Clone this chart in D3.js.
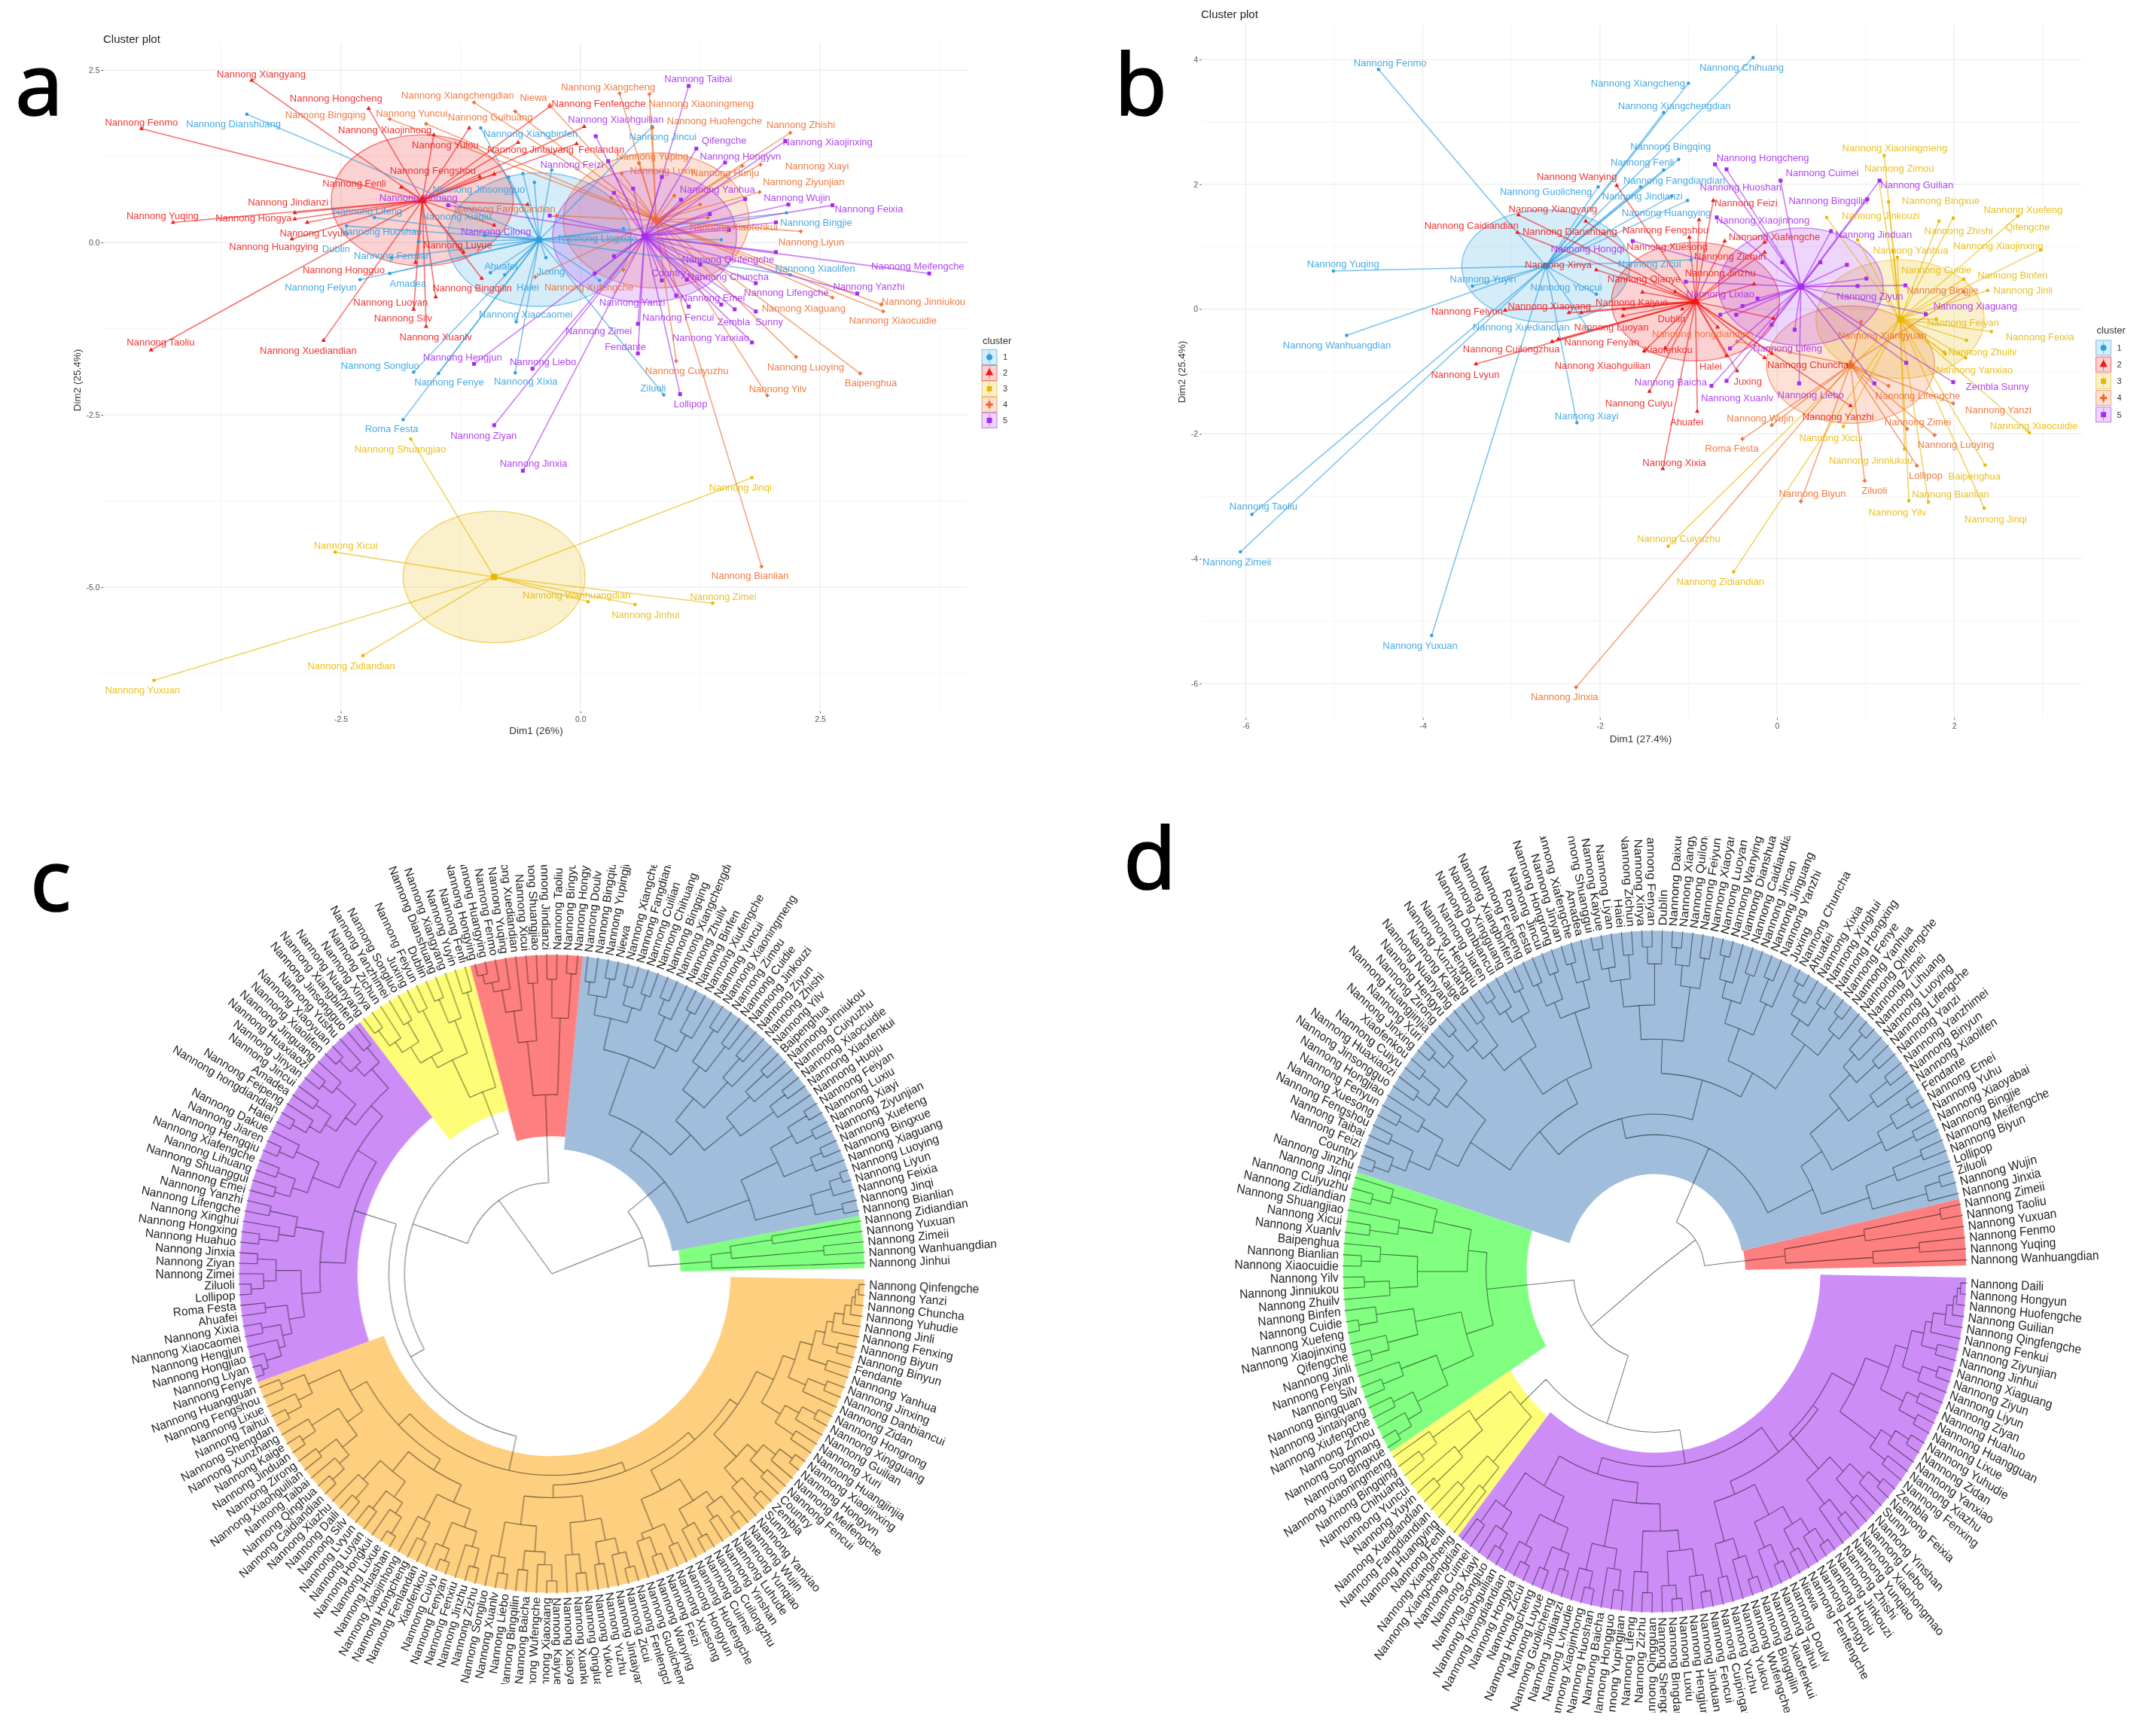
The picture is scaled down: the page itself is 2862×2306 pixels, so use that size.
<!DOCTYPE html>
<html>
<head>
<meta charset="utf-8">
<script src="https://d3js.org/d3.v7.min.js"></script>
<style>
body{margin:0;background:#fff}
svg{display:block;font-family:"Liberation Sans",Arial,sans-serif}
.plots{filter:blur(.55px)}
.panelLetter{font-family:"Noto Sans",sans-serif;font-size:114px;fill:#000;stroke:#000;stroke-width:1.6px}
</style>
</head>
<body>
<script>
// cluster colours of the two scatter plots (clusters 1..5)
var clusterColors = ["#2E9FDF","#F01818","#E7B800","#EE6A2A","#A62BEF"];
var clusterIds = [1,2,3,4,5];

// panel a: name, cluster, Dim1, Dim2, label Dim1, label Dim2 (empty name: point without a label)
var pointsA = [
["Nannong Xiangyang",2,-3.43,2.35,-3.33,2.44],["Nannong Fenmo",2,-4.58,1.65,-4.58,1.74],
["Nannong Hongcheng",2,-2.21,1.94,-2.55,2.09],["Nannong Xiaojinhong",2,-1.53,1.56,-2.04,1.63],
["Nannong Yulou",2,-1.16,1.66,-1.41,1.42],["Nannong Jintaiyang",2,-.04,1.43,-.52,1.35],
["Fenlandan",2,.04,1.68,.22,1.35],["Nannong Fenfengche",2,-.32,1.97,.19,2.01],
["Nannong Fengshou",2,-.90,.99,-1.54,1.04],["Nannong Fenli",2,-1.87,.80,-2.36,.86],
["Nannong Jindianzi",2,-2.98,.43,-3.05,.58],["Nannong Yuqing",2,-4.25,.29,-4.36,.39],
["Nannong Hongya",2,-2.98,.34,-3.41,.36],["Nannong Lvyun",2,-2.85,.29,-2.78,.14],
["Nannong Huangying",2,-3.01,.05,-3.20,-.06],["Nannong Hongguo",2,-1.72,-.29,-2.47,-.40],
["Nannong Luyue",2,-1.22,-.14,-1.28,-.04],["Nannong Bingqilin",2,-1.03,-.52,-1.13,-.66],
["Nannong Luoyan",2,-1.74,-.97,-1.98,-.87],["Nannong Silv",2,-1.61,-1.22,-1.85,-1.10],
["Nannong Xuanlv",2,-1.51,-.79,-1.51,-1.37],["Nannong Taoliu",2,-4.48,-1.56,-4.38,-1.45],
["Nannong Xuediandian",2,-2.68,-1.42,-2.84,-1.56],
["",2,-1.05,.95,0,0],["",2,-.55,.55,0,0],["",2,-.9,.25,0,0],["",2,-.65,1.45,0,0],
["Nannong Dianshuang",1,-3.48,1.86,-3.62,1.72],["Nannong Xiangbinfen",1,-1.04,1.66,-.52,1.58],
["Nannong Jinsongguo",1,-.60,1.00,-1.06,.77],["Nannong Lifeng",1,-2.44,.24,-2.22,.45],
["Nannong Xiaqiu",1,-.48,.87,-1.29,.38],["Nannong Huoshan",1,-2.15,.36,-2.08,.16],
["Dublin",1,-1.97,-.22,-2.55,-.09],["Nannong Fenxian",1,-1.69,.01,-1.96,-.19],
["Nannong Feiyun",1,-2.30,-.54,-2.71,-.65],["Amadea",1,-1.99,-.45,-1.80,-.59],
["Ahuafei",1,-.94,-.44,-.83,-.34],["Haiei",1,-.79,-.47,-.55,-.65],
["Juxing",1,-.36,-.22,-.31,-.42],["Nannong Xiaocaomei",1,-.67,-1.15,-.57,-1.04],
["Nannong Songluo",1,-1.74,-1.88,-2.09,-1.78],["Nannong Fenye",1,-1.48,-1.90,-1.37,-2.02],
["Nannong Xixia",1,-.68,-1.89,-.57,-2.01],["Roma Festa",1,-1.85,-2.57,-1.97,-2.70],
["Ziluoli",1,.87,-2.21,.76,-2.11],["Nannong Jincui",1,.75,1.68,.86,1.53],
["Nannong Bingjie",1,2.15,.43,2.46,.29],["Nannong Xiaolifen",1,2.19,-.47,2.45,-.37],
["Nannong Lingxiao",1,1.47,.04,.18,.06],
["",1,-.75,.95,0,0],["",1,-.3,1.05,0,0],["",1,.2,-.55,0,0],["",1,-1.0,.1,0,0],["",1,.45,.2,0,0],
["Nannong Shuangjiao",3,-1.77,-2.85,-1.88,-3.00],["Nannong Jinqi",3,1.79,-3.41,1.67,-3.55],
["Nannong Xicui",3,-2.56,-4.49,-2.45,-4.39],["Nannong Wanhuangdian",3,.08,-5.21,-.04,-5.11],
["Nannong Jinhui",3,.57,-5.25,.68,-5.40],["Nannong Zimei",3,1.38,-5.23,1.49,-5.13],
["Nannong Zidiandian",3,-2.27,-5.99,-2.39,-6.14],["Nannong Yuxuan",3,-4.45,-6.35,-4.57,-6.49],
["Nannong Xiangchengdian",4,-1.11,2.03,-1.28,2.14],["Nannong Bingqing",4,-1.99,1.79,-2.66,1.85],
["Nannong Yuncui",4,-1.61,1.72,-1.76,1.87],["Nannong Guihuang",4,-.68,1.90,-.94,1.82],
["Niewa",4,-.32,1.99,-.49,2.10],["Nannong Xiangcheng",4,.41,2.16,.29,2.26],
["Nannong Xiaoningmeng",4,.72,2.15,1.26,2.02],["Nannong Huofengche",4,.75,1.66,1.40,1.76],
["Nannong Zhishi",4,2.19,1.59,2.30,1.71],["Nannong Yuping",4,.61,1.15,.75,1.25],
["Nannong Luxiu",4,.43,1.00,.86,1.04],["Nannong Hunju",4,1.69,1.11,1.51,1.01],
["Nannong Xiayi",4,1.88,1.13,2.47,1.11],["Nannong Ziyunjian",4,1.87,.73,2.33,.88],
["Nannong Fangdiandian",4,-.25,.39,-.79,.49],["Nannong Liyun",4,2.30,.16,2.41,.01],
["Nannong Xiaofenkui",4,1.33,.36,1.60,.22],["Nannong Jinniukou",4,3.14,-.90,3.58,-.86],
["Nannong Xiaocuidie",4,3.16,-1.00,3.26,-1.13],["Nannong Xiaguang",4,2.63,-.80,2.33,-.95],
["Nannong Luoying",4,2.25,-1.66,2.35,-1.81],["Baipenghua",4,2.92,-1.90,3.03,-2.03],
["Nannong Yilv",4,1.95,-2.22,2.06,-2.12],["Nannong Cuiyuzhu",4,1.00,-1.72,1.11,-1.86],
["Nannong Bianlian",4,1.89,-4.70,1.77,-4.83],["Nannong Xufengche",4,-.47,-.50,.09,-.65],
["",4,.98,.68,0,0],["",4,1.25,.55,0,0],["",4,.32,.65,0,0],["",4,.45,-.4,0,0],
["Nannong Taibai",5,1.13,2.27,1.23,2.38],["Nannong Xiaohguilian",5,.16,1.54,.37,1.79],
["Qifengche",5,1.21,1.36,1.50,1.48],["Nannong Xiaojinxing",5,2.14,1.47,2.58,1.46],
["Nannong Hongyvn",5,1.51,1.16,1.67,1.25],["Nannong Yanhua",5,1.72,.63,1.43,.77],
["Nannong Wujin",5,2.17,.55,2.26,.65],["Nannong Feixia",5,2.63,.54,3.01,.49],
["Nannong Meifengche",5,3.64,-.45,3.52,-.34],["Nannong Yanzhi",5,2.89,-.74,3.01,-.64],
["Nannong Lifengche",5,2.04,-.14,2.15,-.73],["Nannong Chuncha",5,1.83,-.59,1.54,-.49],
["Nannong Qinfengche",5,2.04,.29,1.54,-.24],["Country",5,1.11,-.54,.92,-.44],
["Nannong Yanzi",5,1.00,-.77,.54,-.87],["Nannong Emei",5,1.47,-.90,1.38,-.80],
["Zembla",5,1.61,-.97,1.60,-1.15],["Sunny",5,1.83,-1.00,1.97,-1.15],
["Nannong Yanxiao",5,1.79,-1.45,1.36,-1.38],["Nannong Fencui",5,1.13,-.93,1.02,-1.08],
["Nannong Zimei",5,.60,-1.18,.19,-1.28],["Fendante",5,.60,-1.61,.47,-1.51],
["Nannong Hengjun",5,-1.11,-1.76,-1.23,-1.66],["Nannong Liebo",5,-.50,-1.83,-.39,-1.73],
["Lollipop",5,1.04,-2.20,1.15,-2.34],["Nannong Ziyan",5,-.90,-2.65,-1.01,-2.80],
["Nannong Jinxia",5,-.60,-3.31,-.49,-3.20],["Nannong Cilong",5,-.32,.39,-.88,.16],
["Nannong Xihuang",5,-1.38,.54,-1.69,.65],["Nannong Feizi",5,.29,1.18,-.09,1.13],
["",5,.35,.72,0,0],["",5,.55,.78,0,0],["",5,.85,.95,0,0],["",5,1.05,.62,0,0],["",5,1.35,.41,0,0],
["",5,1.55,.18,0,0],["",5,1.25,-.32,0,0],["",5,.35,-.2,0,0],["",5,.15,-.45,0,0],["",5,.85,-.55,0,0]
];
// panel a: cluster centre Dim1, Dim2 and ellipse half axes
var centersA = [[-.43,.04,.96,.97],[-1.65,.61,.95,.95],[-.90,-4.85,.95,.955],[.79,.32,.97,.98],[.67,.09,.96,.96]];
var ticksAx = [-2.5,0,2.5], tickLabelsAx = ["-2.5","0.0","2.5"];
var ticksAy = [2.5,0,-2.5,-5], tickLabelsAy = ["2.5","0.0","-2.5","-5.0"];
var minorAx = [-3.75,-1.25,1.25,3.75], minorAy = [1.25,-1.25,-3.75,-6.25];

// panel b
var pointsB = [
["Nannong Fenmo",1,-4.50,3.84,-4.37,3.95],["Nannong Chihuang",1,-.27,4.03,-.40,3.87],
["Nannong Xiangcheng",1,-1.00,3.62,-1.57,3.62],["Nannong Xiangchengdian",1,-1.28,3.15,-1.16,3.26],
["Nannong Bingqing",1,-1.11,2.40,-1.20,2.61],["Nannong Fenli",1,-1.28,2.23,-1.52,2.35],
["Nannong Fangdiandian",1,-1.54,1.96,-1.16,2.07],["Nannong Guolicheng",1,-2.02,1.96,-2.61,1.88],
["Nannong Jindianzi",1,-1.19,1.81,-1.52,1.81],["Nannong Huangying",1,-1.01,1.74,-1.25,1.55],
["Nannong Yuqing",1,-5.01,.61,-4.90,.73],["Nannong Yuyin",1,-3.44,.37,-3.32,.49],
["Nannong Yuncui",1,-2.04,.24,-2.38,.35],["Nannong Zicui",1,-.97,.79,-1.44,.72],
["Nannong Xuediandian",1,-2.12,-.34,-2.89,-.29],["Nannong Wanhuangdian",1,-4.86,-.42,-4.97,-.58],
["Nannong Xiayi",1,-2.26,-1.82,-2.15,-1.71],["Nannong Taoliu",1,-5.93,-3.29,-5.80,-3.16],
["Nannong Zimeii",1,-6.06,-3.89,-6.10,-4.05],["Nannong Yuxuan",1,-3.90,-5.23,-4.03,-5.39],
["Nannong Wanying",2,-1.81,1.98,-2.26,2.12],["Nannong Xiangyang",2,-2.92,1.51,-2.53,1.61],
["Nannong Caidiandian",2,-2.93,1.23,-3.45,1.34],["Nannong Dianshuang",2,-2.16,1.41,-2.34,1.24],
["Nannong Feizi",2,-.72,1.74,-.35,1.70],["Nannong Fengshou",2,-.88,1.43,-1.26,1.27],
["Nannong Xuesong",2,-.99,1.15,-1.24,1.00],["Nannong Zichun",2,-.14,.91,-.53,.85],
["Nannong Jinzhu",2,-.26,.40,-.64,.58],["Nannong Xinya",2,-2.04,.63,-2.47,.71],
["Nannong Qianye",2,-1.15,.28,-1.50,.48],["Nannong Xiaoyang",2,-2.35,-.06,-2.57,.05],
["Nannong Kaiyue",2,-1.73,0,-1.64,.11],["Nannong Feiyun",2,-3.07,-.02,-3.50,-.04],
["Nannong Luoyan",2,-2.21,-.06,-1.87,-.29],["Dublin",2,-1.07,0,-1.19,-.16],
["Nannong Fenyan",2,-2.54,-.52,-1.98,-.53],["Nannong Cuilongzhua",2,-2.47,-.48,-3.00,-.64],
["Nannong Lvyun",2,-3.40,-.88,-3.52,-1.05],["Xiaofenkou",2,-1.50,-.67,-1.23,-.65],
["Nannong Xiaohguilian",2,-1.26,-.63,-1.97,-.90],["Halei",2,-.57,-.75,-.75,-.91],
["Juxing",2,-.45,-.99,-.33,-1.16],["Nannong Cuiyu",2,-1.44,-1.32,-1.56,-1.50],
["Ahuafei",2,-.90,-1.64,-1.02,-1.81],["Nannong Xixia",2,-1.29,-2.56,-1.16,-2.46],
["Nannong Yanzhi",2,.83,-1.55,.69,-1.72],["Nannong Chuncha",2,-.06,-.71,.35,-.89],
["Nannong Xiafengche",2,-.14,1.07,-.03,1.16],
["",2,-.59,1.09,0,0],["",2,-1.52,.27,0,0],["",2,-1.74,-.11,0,0],["",2,-.67,-.29,0,0],["",2,-.04,-.15,0,0],["",2,-.14,-.78,0,0],
["Nannong Xiaoningmeng",3,1.21,2.46,1.33,2.58],["Nannong Zimou",3,1.15,2.06,1.38,2.26],
["Nannong Bingxue",3,1.26,1.72,1.85,1.74],["Nannong Xuefeng",3,2.72,1.49,2.78,1.59],
["Nannong Jinkouzi",3,.56,1.47,1.17,1.50],["Nannong Zhishi",3,1.83,1.41,2.05,1.26],
["Qifengche",3,1.99,1.46,2.83,1.32],["Nannong Xiaojinxing",3,2.98,.95,2.50,1.01],
["Nannong Yanhua",3,.91,1.11,1.51,.94],["Nannong Cuidie",3,1.36,.83,1.80,.63],
["Nannong Binfen",3,2.11,.48,2.66,.55],["Nannong Jinli",3,2.38,.30,2.78,.30],
["Nannong Feiyan",3,1.80,-.16,2.10,-.21],["Nannong Feixia",3,2.42,-.36,2.97,-.44],
["Nannong Zhuilv",3,1.89,-.69,2.32,-.69],["Nannong Yanxiao",3,2.13,-.78,2.23,-.97],
["Nannong Xiaocuidie",3,2.85,-1.98,2.90,-1.87],["Baipenghua",3,2.35,-2.50,2.23,-2.67],
["Nannong Bianlian",3,1.71,-3.09,1.96,-2.97],["Nannong Jinqi",3,2.34,-3.19,2.47,-3.36],
["Nannong Yilv",3,1.49,-3.07,1.36,-3.25],["Nannong Jinniukou",3,1.44,-2.24,1.06,-2.42],
["Nannong Xicui",3,.75,-1.88,.61,-2.06],["Nannong Cuiyuzhu",3,-1.23,-3.80,-1.11,-3.68],
["Nannong Zidiandian",3,-.49,-4.21,-.64,-4.37],
["",3,2.14,-.50,0,0],["",3,1.90,-.72,0,0],["",3,1.31,.93,0,0],
["Nannong Xiangyuan",4,.95,-.20,1.19,-.42],["Nannong Lifengche",4,1.26,-1.23,1.59,-1.39],
["Nannong Yanzi",4,1.99,-1.51,2.50,-1.62],["Nannong Zimei",4,1.47,-1.92,1.59,-1.81],
["Nannong Luoying",4,1.78,-2.02,2.02,-2.17],["Lollipop",4,1.58,-2.51,1.68,-2.66],
["Ziluoli",4,.99,-2.75,1.10,-2.91],["Nannong Biyun",4,.27,-3.08,.40,-2.95],
["Nannong Wujin",4,-.06,-1.86,-.19,-1.75],["Roma Festa",4,-.39,-2.08,-.51,-2.23],
["Nannong Jinxia",4,-2.27,-6.06,-2.40,-6.21],["Nannong hongdiandian",4,-.45,-.52,-.84,-.40],
["Nannong Bingjie",4,2.11,.28,1.87,.30],
["Nannong Hongcheng",5,-.57,2.24,-.16,2.43],["Nannong Cuimei",5,.04,2.06,.51,2.19],
["Nannong Guilian",5,1.16,2.06,1.58,1.99],["Nannong Huoshan",5,-.70,2.32,-.41,1.96],
["Nannong Bingqilin",5,1.02,1.76,.58,1.74],["Nannong Xiaojinhong",5,-.68,1.47,-.16,1.43],
["Nannong Jinduan",5,.61,1.25,1.09,1.20],["Nannong Hongqi",5,-1.63,1.09,-2.14,.97],
["Nannong Lixiao",5,-1.03,.44,-.64,.24],["Nannong Ziyun",5,1.45,.38,1.05,.21],
["Nannong Xiaguang",5,1.68,-.08,2.24,.05],["Nannong Lifeng",5,-.53,-.63,.12,-.62],
["Nannong Baicha",5,-.74,-1.23,-1.20,-1.17],["Nannong Xuanlv",5,-.57,-1.15,-.45,-1.42],
["Nannong Liebo",5,.25,-1.19,.38,-1.37],["Zembla  Sunny",5,1.99,-1.17,2.49,-1.24],
["",5,-.39,.05,0,0],["",5,-.46,-.09,0,0],["",5,-.64,-.09,0,0],["",5,-.22,.17,0,0],["",5,-.06,-.25,0,0],
["",5,.20,-.33,0,0],["",5,.06,.75,0,0],["",5,.49,.75,0,0],["",5,.79,.71,0,0],["",5,.91,.37,0,0],
["",5,1.01,.49,0,0],["",5,1.46,-.86,0,0],["",5,1.10,-1.19,0,0]
];
var centersB = [[-2.61,.69,.95,.90],[-.92,.12,.95,.95],[1.39,-.16,.95,.95],[.83,-.89,.95,.94],[.27,.36,.93,.94]];
var ticksBx = [-6,-4,-2,0,2], ticksBy = [4,2,0,-2,-4,-6];
var minorBx = [-5,-3,-1,1,3], minorBy = [3,1,-1,-3,-5];

// names in the fan dendrograms get the "Nannong " prefix unless listed here
var plainNames = ["Ziluoli","Lollipop","Ahuafei","Roma Festa","Haiei","Amadea","Dublin","Fendante","Country","Qifengche","Baipenghua","Niewa","Xiaofenkou","Juxing","Zembla","Sunny"];

// fan trees: [node height, child, child], leaves are cultivar names, counter clockwise from east
var greenC = [.51,"Jinhui",[.575,[.87,"Wanhuangdian","Zimeii"],[.71,"Yuxuan","Zidiandian"]]];
var blueC = [.46,
 [.67,
  [.86,[.95,"Bianlian","Jinqi"],[.93,"Feixia",[.97,"Liyun","Luoying"]]],
  [.80,[.90,"Xiaguang",[.94,"Bingxue","Xuefeng"]],[.88,[.94,"Ziyunjian","Xiayi"],[.95,"Luxiu","Feiyan"]]]],
 [.53,
  [.62,
   [.74,[.87,"Huoju",[.93,"Xiaofenkui","Xiaocuidie"]],[.84,"Cuiyuzhu",[.92,"Jinniukou","Baipenghua"]]],
   [.71,[.82,"Yilv",[.9,"Zhishi","Ziyun"]],[.80,[.9,"Jinkouzi","Cuidie"],[.92,"Zimou","Xiaoningmeng"]]]],
  [.72,
   [.80,[.86,"Yuncui",[.93,"Xiufengche","Binfen"]],[.88,"Zhuilv",[.93,"Xiangchengdian","Bingqing"]]],
   [.82,[.87,[.92,"Chihuang","Cuilian"],[.93,"Fangdiandian","Xiangcheng"]],[.88,[.94,"Niewa","Yupingjian"],[.92,"Bingqiu","Doulv"]]]]]
];
var redC = [.56,
 [.80,[.94,"Hongyu","Bingyu"],[.92,"Taoliu","Jindianzi"]],
 [.73,[.91,"Shuangjiao","Xicui"],[.83,"Xuediandian",[.90,"Yuqing",[.93,"Fenmo",[.96,"Huangying","Hongying"]]]]]
];
var yellowC = [.61,
 [.92,"Fenli","Yuyin"],
 [.74,
  [.85,"Xiangyang",[.93,"Dianshuang","Dublin"]],
  [.78,[.92,"Feiyun","Juxing"],[.84,[.91,"Songluo","Yanzhimei"],[.88,"Zichun",[.94,"Xinya","Nuanyang"]]]]]
];
var purpleC = [.66,
 [.73,
  [.78,[.86,[.92,"Xiangbinfen","Jinsongguo"],[.9,"Yushu",[.95,"Xiaoyuan","Xiaolifen"]]],[.82,[.9,"Jinguang",[.94,"Huaxiaozi","Jinyan"]],[.86,[.92,"Jincui","Amadea"],[.9,"Feipeng",[.95,"hongdiandian","Haiei"]]]]],
  [.82,[.9,"Dakue",[.95,"Jiaren","Hengqiu"]],[.87,[.93,"Xiafengche","Lihuang"],[.92,"Shuanggui","Emei"]]]],
 [.74,
  [.83,[.92,"Yanzhi","Lifengche"],[.88,"Xinghui",[.94,"Hongxing","Huahuo"]]],
  [.8,[.88,[.94,"Jinxia","Ziyan"],[.92,"Zimei",[.96,"Ziluoli","Lollipop"]]],[.85,[.92,"Roma Festa","Ahuafei"],[.88,[.94,"Xixia","Xiaocaomei"],[.9,"Hengjun",[.95,"Hongjiao",[.97,"Liyan","Fenye"]]]]]]]
];
var orangeC = [.63,
 [.68,
  [.74,[.85,[.93,"Huangguan","Fengshou"],[.9,"Lixue",[.95,"Taihui","Shengdan"]]],[.8,[.9,"Xunzhang",[.95,"Kaige","Jinduan"]],[.86,[.93,"Zirong","Xiaohguilian"],[.9,"Taibai",[.95,"Qinghua","Caidiandian"]]]]],
  [.72,[.8,[.88,"Xiazhu",[.94,"Daili","Silv"]],[.86,[.93,"Lvyun","Luyan"],[.9,"Hongkui",[.96,"Luxue","Huashan"]]]],[.78,[.87,"Xiaojinhong",[.93,"Hongcheng","Fenlandan"]],[.84,[.92,"Xiaofenkou",[.96,"Cuiyu","Fenyan"]],[.89,"Fenxiu",[.95,"Jinzhu","Zizhu"]]]]]],
 [.66,
  [.7,
   [.79,[.9,"Songluo",[.95,"Xuanlv","Liebo"]],[.87,[.93,"Bingqilin","Baicha"],[.91,"Wufengche",[.96,"Xiaoxiang","Kaiyue"]]]],
   [.78,[.88,"Xiaoyang",[.94,"Xuanku","Qingluan"]],[.85,[.92,"Yukou","Yuzhu"],[.9,"Jintaiyang",[.95,"Zicui","Fenlengche"]]]]],
  [.69,
   [.76,[.86,[.88,"Guolicheng",[.94,"Wanying","Feizi"]],[.93,"Xuesong","Hongyun"]],[.84,[.9,"Huofengche",[.95,"Cuimei","Cuilongzhu"]],[.88,[.92,"Yinshan","Luhude"],[.95,"Yunqiao","Wujin"]]]],
   [.72,
    [.82,[.88,"Yanxiao",[.95,"Sunny","Zembla"]],[.86,[.92,"Country","Fencui"],[.91,"Meifengche",[.96,"Hongyvn","Xiaojinxing"]]]],
    [.78,[.85,[.92,"Huangjinjia","Xuri"],[.9,"Guilian",[.95,"Xingguang","Hongrong"]]],[.82,[.88,"Zidan",[.94,"Danbiancui","Jinxing"]],[.86,[.92,"Yanhua","Fendante"],[.89,[.94,"Binyun","Biyun"],[.91,"Fenxing",[.94,"Jinli",[.96,"Yuhudie",[.97,"Chuncha",[.98,"Yanzi","Qinfengche"]]]]]]]]]]]]
];
var treeC = [0,[.31,greenC,blueC],[.285,redC,[.47,yellowC,[.52,purpleC,orangeC]]]];
var clustersC = [greenC,blueC,redC,yellowC,purpleC,orangeC];
var wedgeInnerC = [.41,.39,.43,.53,.62,.57];
var wedgeColorsC = ["#80FF80","#A0BDDB","#FE7F7F","#FEFD77","#CC8DF7","#FDCF7E"];

var redD = [.42,[.7,"Wanhuangdian",[.85,"Yuqing","Fenmo"]],[.68,"Yuxuan",[.93,"Taoliu","Zimeii"]]];
var blueD = [.40,
 [.56,
  [.72,[.9,"Jinxia",[.95,"Wujin","Ziluoli"]],[.82,"Lollipop",[.92,"Biyun","Meifengche"]]],
  [.64,[.82,[.92,"Bingjie","Xiaoyabai"],[.88,"Yuhu",[.95,"Emei","Fendante"]]],[.76,[.86,"Xiaolifen",[.93,"Binyun","Yanzhimei"]],[.85,[.93,"Yanzi","Lifengche"],[.9,"Luoying",[.96,"Lihuang","Zimei"]]]]]],
 [.46,
  [.58,
   [.66,
    [.82,[.9,"Qinfengche",[.95,"Yanhua","Fenye"]],[.87,[.94,"Hongxing","Xinghui"],[.92,"Xixia",[.96,"Ahuafei","Chuncha"]]]],
    [.76,[.86,"Juxing",[.93,"Yanzhi","Jinguang"]],[.83,[.92,"Jincan","Caidiandian"],[.88,"Dianshuang",[.95,"Wanying","Luoyan"]]]]],
   [.68,
    [.84,[.93,"Xiaoyang","Feiyun"],[.9,"Quilong",[.95,"Xiangy","Daixue"]]],
    [.78,[.9,"Dublin",[.95,"Fenyan","Xinya"]],[.86,[.93,"Zichun","Haiei"],[.9,"Liyan",[.96,"Kaiyue","Shuanggui"]]]]]],
  [.55,
   [.63,
    [.8,[.88,"Amadea",[.94,"Xiafengche","Jinyan"]],[.85,[.93,"Hongrong","Jincui"],[.92,"Roma Festa","Feipeng"]]],
    [.76,[.86,[.93,"Xiangbinfen","Xingguang"],[.9,"Danbiancui",[.95,"Jiaren","Hengqiu"]]],[.83,[.92,"Xunzhang","Kaige"],[.88,"Nuanyang",[.95,"Hengyu","Zirong"]]]]],
   [.7,
    [.82,[.9,"Huangjinjia",[.95,"Xuri","Jinxing"]],[.87,[.94,"Xiaofenkou","Cuiyu"],[.92,"Huaxiaozi","Jinsongguo"]]],
    [.78,[.86,"Hongjiao",[.93,"Fenyun","Xuesong"]],[.85,[.93,"Fengshou","Taibai"],[.9,"Feizi",[.95,"Country","Jinzhu"]]]]]]]
];
var greenD = [.54,
 [.6,
  [.72,[.87,"Jinqi",[.93,"Cuiyuzhu","Zidiandian"]],[.83,"Shuangjiao",[.92,"Xicui","Xuanlv"]]],
  [.76,[.88,"Baipenghua",[.94,"Bianlian","Xiaocuidie"]],[.85,[.93,"Yilv","Jinniukou"],"Zhuilv"]]],
 [.63,
  [.78,[.9,"Binfen",[.96,"Cuidie","Xuefeng"]],[.88,"Xiaojinxing",[.94,"Qifengche","Jinli"]]],
  [.74,[.86,"Feiyan",[.93,"Silv","Bingquan"]],[.85,[.92,"Jintaiyang","Xiufengche"],[.9,"Zimou",[.95,"Songmang","Bingxue"]]]]]
];
var yellowD = [.58,[.72,[.86,"Xiaoningmeng",[.92,"Bingqing","Chihuang"]],[.82,"Yuncui",[.93,"Yuyin","Xuediandian"]]],[.76,[.88,"Fangdiandian","Huangying"],[.84,"Fenli","Xiangcheng"]]];
var purpleD = [.57,
 [.62,
  [.72,[.84,[.92,"Xiangchengdian","Cuimei"],[.9,"Xiayi",[.95,"Songluo","Xiaohguilian"]]],[.8,[.9,"hongdiandian",[.95,"Hongya","Zicui"]],[.87,[.94,"Hongcheng","Luyue"],[.92,"Guolicheng","Jindianzi"]]]],
  [.68,[.82,[.9,"Lvhudie",[.95,"Xiaojinhong","Huoshan"]],[.88,"Baicha",[.94,"Hongguo","Yupingjian"]]],[.76,[.88,"Lifeng",[.94,"Zizhu","Qingguan"]],[.82,[.92,"Shengdan",[.96,"Bingdan","Luxiu"]],[.9,"Hengjun",[.95,"Jinduan","Fencui"]]]]]],
 [.66,
  [.7,[.82,[.92,"Cuipingan","Yuzhu"],[.88,"Yukou",[.95,"Wufengche","Bingqilin"]]],[.8,[.88,"Xiaofenkui",[.94,"Taihui","Doulv"]],[.86,[.93,"Niewa","Fenfengche"],[.91,"Hongyu",[.96,"Huoju","Jinkouzi"]]]]],
  [.64,
   [.78,[.87,"Zhishi",[.93,"Yunqiao","Xiaohongmao"]],[.84,[.92,"Liebo","Yinshan"],[.9,"Sunny",[.95,"Feixia","Zembla"]]]],
   [.72,[.86,[.92,"Fenxing","Xiazhu"],[.9,"Yanxiao",[.95,"Zidan","Yuhudie"]]],[.8,[.88,[.94,"Lixue","Huangguan"],[.92,"Huahuo","Ziyan"]],[.84,[.9,"Liyun",[.95,"Ziyun","Xiaguang"]],[.88,[.93,"Jinhui","Ziyunjian"],[.9,"Fenkui",[.94,"Qingfengche",[.96,"Guilian",[.97,"Huofengche",[.98,"Hongyun","Daili"]]]]]]]]]]]
];
var treeD = [0,[.16,redD,blueD],[.26,greenD,[.47,yellowD,purpleD]]];
var clustersD = [redD,blueD,greenD,yellowD,purpleD];
var wedgeInnerD = [.29,.285,.41,.545,.53];
var wedgeColorsD = ["#FE7F7F","#A0BDDB","#80FF80","#FEFD77","#CC8DF7"];

window.onload = drawFigure;

function drawFigure(){
	var svg = d3.select("body").append("svg").attr("width",2862).attr("height",2306);
	var plots = svg.append("g").attr("class","plots");

	drawCluster(plots,{points:pointsA,centers:centersA,
		xDomain:[-4.98,4.04],yDomain:[2.90,-6.80],left:137,right:1285,top:56.4,bottom:945,
		xTicks:ticksAx,xLabels:tickLabelsAx,yTicks:ticksAy,yLabels:tickLabelsAy,xMinor:minorAx,yMinor:minorAy,
		title:[137,57],xTitle:["Dim1 (26%)",712,975],yTitle:["Dim2 (25.4%)",107,505],legend:[1314,452,474.4,21]});
	drawCluster(plots,{points:pointsB,centers:centersB,
		xDomain:[-6.50,3.44],yDomain:[4.56,-6.55],left:1595.6,right:2764.5,top:32.6,bottom:953.6,
		xTicks:ticksBx,xLabels:ticksBx.map(String),yTicks:ticksBy,yLabels:ticksBy.map(String),xMinor:minorBx,yMinor:minorBy,
		title:[1595,24],xTitle:["Dim1 (27.4%)",2179,986],yTitle:["Dim2 (25.4%)",1574,494],legend:[2793.6,438,462,22.2]});

	drawFan(plots,{tree:treeC,clusters:clustersC,inner:wedgeInnerC,colors:wedgeColorsC,
		cx:733,cy:1692,R:425,sx:.98,sy:1,font:15.8,clip:[0,1149,1431,1088]});
	drawFan(plots,{tree:treeD,clusters:clustersD,inner:wedgeInnerD,colors:wedgeColorsD,
		cx:2197.6,cy:1689,R:454,sx:.914,sy:1,font:16.9,clip:[1431,1111,1431,1164]});

	var letters = [["a",20,153],["b",1480,153],["c",40,1210],["d",1492,1181]];
	svg.selectAll(".panelLetter").data(letters).enter().append("text")
		.attr("class","panelLetter")
		.attr("x",function(d){return d[1];})
		.attr("y",function(d){return d[2];})
		.text(function(d){return d[0];});
}

function markerPath(cluster,size){
	var types = [d3.symbolCircle,d3.symbolTriangle,d3.symbolSquare,d3.symbolCross,d3.symbolSquare];
	return d3.symbol().type(types[cluster-1]).size(size)();
}

//one factoextra style cluster plot
function drawCluster(parent,o){
	var x = d3.scaleLinear().domain(o.xDomain).range([o.left,o.right]);
	var y = d3.scaleLinear().domain(o.yDomain).range([o.top,o.bottom]);
	var g = parent.append("g");

	// grid
	var grid = g.append("g");
	function hLines(vals,col){
		grid.selectAll(null).data(vals).enter().append("line")
			.attr("x1",o.left).attr("x2",o.right).attr("y1",y).attr("y2",y).attr("stroke",col).attr("stroke-width",1.2);
	}
	function vLines(vals,col){
		grid.selectAll(null).data(vals).enter().append("line")
			.attr("y1",o.top).attr("y2",o.bottom).attr("x1",x).attr("x2",x).attr("stroke",col).attr("stroke-width",1.2);
	}
	hLines(o.yMinor,"#f6f6f6"); vLines(o.xMinor,"#f6f6f6");
	hLines(o.yTicks,"#ececec"); vLines(o.xTicks,"#ececec");

	// axes
	var xAxis = d3.axisBottom(x).tickValues(o.xTicks).tickSize(2.5).tickPadding(4)
		.tickFormat(function(d,i){return o.xLabels[i];});
	var yAxis = d3.axisLeft(y).tickValues(o.yTicks).tickSize(2.5).tickPadding(2)
		.tickFormat(function(d,i){return o.yLabels[i];});
	[g.append("g").attr("transform","translate(0,"+o.bottom+")").call(xAxis),
	 g.append("g").attr("transform","translate("+o.left+",0)").call(yAxis)].forEach(function(a){
		a.select(".domain").remove();
		a.selectAll("line").attr("stroke","#555");
		a.selectAll("text").attr("fill","#555").attr("font-size",10.5).attr("font-family",null);
	});

	g.append("text").attr("x",o.title[0]).attr("y",o.title[1]).attr("font-size",15).attr("fill","#222").text("Cluster plot");
	g.append("text").attr("x",o.xTitle[1]).attr("y",o.xTitle[2]).attr("text-anchor","middle").attr("font-size",13.5).attr("fill","#333").text(o.xTitle[0]);
	g.append("text").attr("transform","translate("+o.yTitle[1]+","+o.yTitle[2]+") rotate(-90)").attr("text-anchor","middle").attr("font-size",13.5).attr("fill","#333").text(o.yTitle[0]);

	// ellipses
	g.selectAll(".clusterEllipse").data(o.centers).enter().append("ellipse")
		.attr("class","clusterEllipse")
		.attr("cx",function(d){return x(d[0]);})
		.attr("cy",function(d){return y(d[1]);})
		.attr("rx",function(d){return x(d[2])-x(0);})
		.attr("ry",function(d){return y(0)-y(d[3]);})
		.attr("fill",function(d,i){return clusterColors[i];})
		.attr("fill-opacity",.2)
		.attr("stroke",function(d,i){return clusterColors[i];})
		.attr("stroke-opacity",.55)
		.attr("stroke-width",1.4);

	// stars from the cluster centre to every member
	g.selectAll(".starLine").data(o.points).enter().append("line")
		.attr("class","starLine")
		.attr("x1",function(d){return x(o.centers[d[1]-1][0]);})
		.attr("y1",function(d){return y(o.centers[d[1]-1][1]);})
		.attr("x2",function(d){return x(d[2]);})
		.attr("y2",function(d){return y(d[3]);})
		.attr("stroke",function(d){return clusterColors[d[1]-1];})
		.attr("stroke-opacity",.6)
		.attr("stroke-width",1.6);

	g.selectAll(".member").data(o.points).enter().append("path")
		.attr("class","member")
		.attr("transform",function(d){return "translate("+x(d[2])+","+y(d[3])+")";})
		.attr("d",function(d){return markerPath(d[1],d[1]==5?26:16);})
		.attr("fill",function(d){return clusterColors[d[1]-1];});

	g.selectAll(".centre").data(o.centers).enter().append("path")
		.attr("class","centre")
		.attr("transform",function(d){return "translate("+x(d[0])+","+y(d[1])+")";})
		.attr("d",function(d,i){return markerPath(i+1,70);})
		.attr("fill",function(d,i){return clusterColors[i];});

	g.selectAll(".memberLabel").data(o.points.filter(function(d){return d[0];})).enter().append("text")
		.attr("class","memberLabel")
		.attr("x",function(d){return x(d[4]);})
		.attr("y",function(d){return y(d[5]);})
		.attr("dy",".35em")
		.attr("text-anchor","middle")
		.attr("font-size",13)
		.attr("fill",function(d){return clusterColors[d[1]-1];})
		.attr("fill-opacity",.88)
		.text(function(d){return d[0];});

	// legend
	var lx = o.legend[0], ly = o.legend[2], step = o.legend[3];
	g.append("text").attr("x",lx-9).attr("y",o.legend[1]+5).attr("font-size",13).attr("fill","#333").text("cluster");
	var keys = g.selectAll(".key").data(clusterIds).enter().append("g")
		.attr("class","key")
		.attr("transform",function(d,i){return "translate("+lx+","+(ly+i*step)+")";});
	keys.append("rect").attr("x",-10).attr("y",-10).attr("width",20).attr("height",20)
		.attr("fill",function(d){return clusterColors[d-1];}).attr("fill-opacity",.2)
		.attr("stroke",function(d){return clusterColors[d-1];}).attr("stroke-opacity",.6);
	keys.append("line").attr("y1",-8).attr("y2",8)
		.attr("stroke",function(d){return clusterColors[d-1];}).attr("stroke-opacity",.6);
	keys.append("path").attr("d",function(d){return markerPath(d,48);})
		.attr("fill",function(d){return clusterColors[d-1];});
	keys.append("text").attr("x",18).attr("dy",".35em").attr("font-size",11).attr("fill","#333").text(function(d){return d;});
}

//circular dendrogram with coloured cluster sectors
function drawFan(parent,o){
	var root = d3.hierarchy(o.tree,function(d){return Array.isArray(d)?d.slice(1):null;});
	var span = 358, start = 1;
	d3.cluster().size([span,1]).separation(function(){return 1;})(root);

	var angle = d3.scaleLinear().domain([0,span]).range([start,start+span]);
	var radius = d3.scaleLinear().domain([0,1]).range([0,o.R]);
	var rad = Math.PI/180;
	function height(n){return Array.isArray(n.data)?n.data[0]:1;}

	var step = span/root.leaves().length;
	var clip = "fanClip"+Math.round(o.cx);
	parent.append("clipPath").attr("id",clip).append("rect")
		.attr("x",o.clip[0]).attr("y",o.clip[1]).attr("width",o.clip[2]).attr("height",o.clip[3]);
	var g = parent.append("g").attr("clip-path","url(#"+clip+")")
		.append("g").attr("transform","translate("+o.cx+","+o.cy+") scale("+o.sx+","+o.sy+")");

	// sectors
	var sector = d3.arc();
	o.clusters.forEach(function(sub,i){
		var node = root.descendants().filter(function(n){return n.data===sub;})[0];
		var leaves = node.leaves();
		var a0 = angle(leaves[0].x-step/2), a1 = angle(leaves[leaves.length-1].x+step/2);
		g.append("path")
			.attr("d",sector({innerRadius:radius(o.inner[i]),outerRadius:radius(.997),startAngle:(90-a1)*rad,endAngle:(90-a0)*rad}))
			.attr("fill",o.colors[i]);
	});

	// branches
	var p = d3.path();
	root.descendants().forEach(function(n){
		var t = angle(n.x)*rad;
		if(n.parent){
			p.moveTo(radius(height(n.parent))*Math.cos(t),-radius(height(n.parent))*Math.sin(t));
			p.lineTo(radius(height(n))*Math.cos(t),-radius(height(n))*Math.sin(t));
		}
		if(n.children && height(n)>0){
			var k = n.children;
			var t0 = angle(k[0].x)*rad, t1 = angle(k[k.length-1].x)*rad, r = radius(height(n));
			p.moveTo(r*Math.cos(t0),-r*Math.sin(t0));
			p.arc(0,0,r,-t0,-t1,true);
		}
	});
	g.append("path").attr("d",p.toString()).attr("fill","none").attr("stroke","#000").attr("stroke-opacity",.55).attr("stroke-width",1.1);

	// leaf labels
	g.selectAll(".leafLabel").data(root.leaves()).enter().append("text")
		.attr("class","leafLabel")
		.attr("transform",function(n){
			var a = angle(n.x), flip = a>90 && a<270;
			return "rotate("+(-a)+") translate("+radius(1.012)+",0)"+(flip?" rotate(180)":"");
		})
		.attr("text-anchor",function(n){var a = angle(n.x);return a>90&&a<270?"end":"start";})
		.attr("dy",".35em")
		.attr("font-size",o.font)
		.attr("fill","#222")
		.text(function(n){return plainNames.indexOf(n.data)>=0?n.data:"Nannong "+n.data;});
}
</script>
</body>
</html>
